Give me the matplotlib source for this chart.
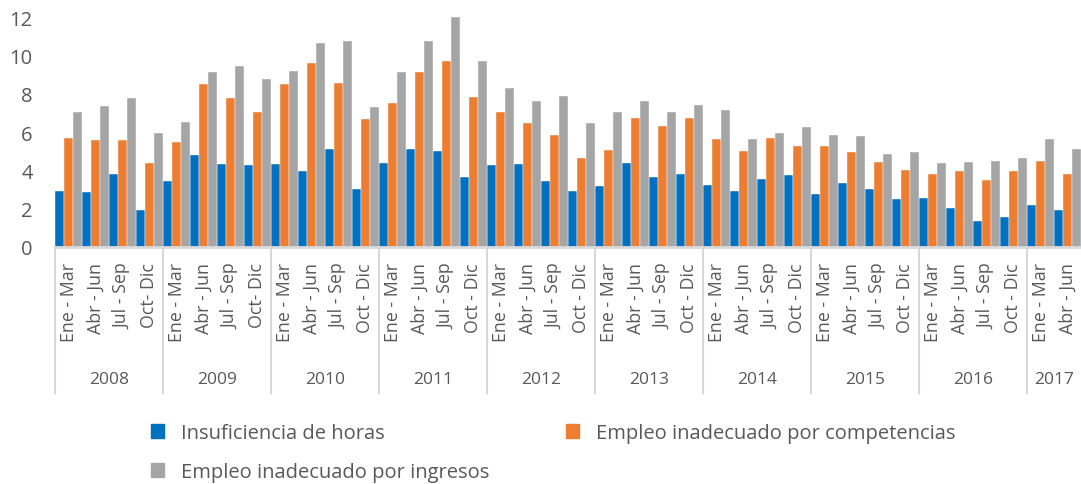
import numpy as np
import matplotlib.pyplot as plt
from matplotlib.patches import Patch
from matplotlib.transforms import blended_transform_factory

plt.rcParams['font.family'] = ['Open Sans', 'DejaVu Sans']

anios = ['2008', '2009', '2010', '2011', '2012', '2013', '2014', '2015', '2016', '2017']
trimestres = ['Ene - Mar', 'Abr - Jun', 'Jul - Sep', 'Oct - Dic']

etiquetas = []
for a in anios:
    for t in trimestres:
        if a in ('2008', '2009') and t == 'Oct - Dic':
            t = 'Oct- Dic'
        etiquetas.append(t)
etiquetas = etiquetas[:38]

horas = [2.92, 2.87, 3.81, 1.95,
         3.43, 4.80, 4.31, 4.30,
         4.31, 3.97, 5.11, 3.03,
         4.40, 5.11, 5.03, 3.65,
         4.28, 4.35, 3.46, 2.94,
         3.17, 4.37, 3.67, 3.83,
         3.22, 2.94, 3.53, 3.77,
         2.75, 3.36, 3.03, 2.50,
         2.57, 2.03, 1.36, 1.57,
         2.19, 1.95]
competencias = [5.70, 5.60, 5.57, 4.37,
                5.48, 8.49, 7.76, 7.03,
                8.50, 9.60, 8.57, 6.68,
                7.51, 9.13, 9.72, 7.81,
                7.06, 6.47, 5.86, 4.64,
                5.06, 6.75, 6.33, 6.73,
                5.63, 5.03, 5.67, 5.29,
                5.25, 4.96, 4.42, 4.03,
                3.81, 3.98, 3.50, 3.95,
                4.49, 3.83]
ingresos = [7.06, 7.37, 7.77, 5.95,
            6.54, 9.15, 9.44, 8.75,
            9.18, 10.66, 10.75, 7.29,
            9.13, 10.75, 12.02, 9.70,
            8.30, 7.63, 7.88, 6.49,
            7.04, 7.60, 7.06, 7.43,
            7.17, 5.62, 5.95, 6.24,
            5.83, 5.81, 4.87, 4.97,
            4.37, 4.45, 4.49, 4.63,
            5.62, 5.11]

series = ['Insuficiencia de horas', 'Empleo inadecuado por competencias',
          'Empleo inadecuado por ingresos']
colores = ['#0070C0', '#ED7D31', '#A5A5A5']
gris_texto = '#595959'
gris_linea = '#D9D9D9'

fig = plt.figure(figsize=(10.81, 4.85), dpi=100)
ax = fig.add_axes([55 / 1081, 237 / 485, 1026 / 1081, 230 / 485])

x = np.arange(len(etiquetas))
w = 1 / 3
for k, vals in enumerate([horas, competencias, ingresos]):
    ax.bar(x + (k - 1) * w, vals, width=w, color=colores[k],
           edgecolor='white', linewidth=0.3, clip_on=False)

ax.set_xlim(-0.5, len(etiquetas) - 0.5)
ax.set_ylim(0, 12)
ax.set_yticks(range(0, 13, 2))
ax.tick_params(axis='y', length=0, pad=16, labelsize=14.5, labelcolor=gris_texto)
ax.set_xticks(x)
ax.set_xticklabels(etiquetas, rotation=90, fontsize=12.8, color=gris_texto, va='top')
ax.tick_params(axis='x', length=0, pad=11)

for s in ['top', 'right', 'left']:
    ax.spines[s].set_visible(False)
ax.spines['bottom'].set_color(gris_linea)
ax.spines['bottom'].set_linewidth(2)

tr = blended_transform_factory(ax.transData, ax.transAxes)
for i in range(10):
    ax.plot([i * 4 - 0.5, i * 4 - 0.5], [0, -0.635], color=gris_linea, lw=1.5,
            transform=tr, clip_on=False)
    centro = min(i * 4 + 1.5, 36.5)
    ax.text(centro, -0.574, anios[i], transform=tr, ha='center', va='center',
            fontsize=12.5, color=gris_texto)

handles = [Patch(color=colores[0], label=series[0]),
           Patch(color=colores[2], label=series[2]),
           Patch(color=colores[1], label=series[1])]
fig.legend(handles=handles, ncol=2, loc='upper left',
           bbox_to_anchor=(133 / 1081, 1 - 406 / 485), frameon=False,
           fontsize=14.5, labelcolor=gris_texto, handlelength=0.65,
           handleheight=0.65, handletextpad=0.85, columnspacing=3.8,
           labelspacing=0.95)

fig.savefig('out.png', dpi=100)
